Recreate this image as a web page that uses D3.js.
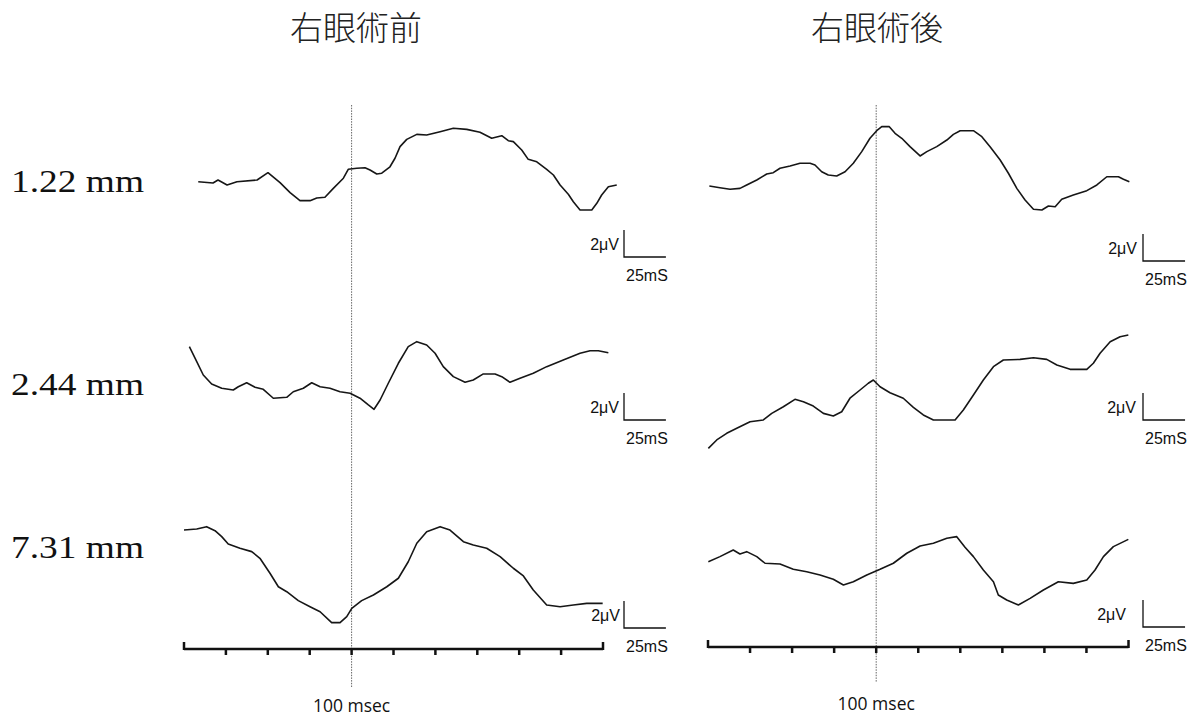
<!DOCTYPE html>
<html>
<head>
<meta charset="utf-8">
<script src="https://cdn.jsdelivr.net/npm/d3@7"></script>
<style>
  body { margin: 0; background: #fff; }
  svg { display: block; }
</style>
</head>
<body>
<svg id="chart" width="1200" height="718"></svg>
<script>
// ---- data -------------------------------------------------------------
const titles = ["右眼術前", "右眼術後"];
const rowLabels = ["1.22 mm", "2.44 mm", "7.31 mm"];
const rulerTicks = [0, 25, 50, 75, 100, 125, 150, 175, 200, 225, 250]; // ms
const markerTime = 100;          // ms
const markerLabel = "100 msec";
const barVolt = 2;               // μV
const barTime = 25;              // ms
const barVoltLabel = "2μV";
const barTimeLabel = "25mS";

// pattern VEP traces: [time (ms), amplitude (μV)]
const pre122 = [[8.5,-0.87],[17.3,-0.96],[20.3,-0.74],[25.7,-1.11],[31.6,-0.87],[43.6,-0.74],[50.1,-0.20],[57.3,-0.94],[63.3,-1.68],[69.2,-2.27],[75.2,-2.27],[79.2,-2.07],[84.1,-2.02],[89.1,-1.36],[95.1,-0.61],[98.0,0.05],[103.1,0.13],[108.0,0.17],[111.0,0.00],[115.0,-0.30],[118.0,-0.24],[122.9,0.24],[125.9,0.87],[128.9,1.73],[132.9,2.27],[138.9,2.64],[144.8,2.59],[152.8,2.84],[160.7,3.09],[168.7,3.01],[176.6,2.79],[183.6,2.35],[189.6,2.54],[193.5,2.17],[196.5,2.10],[201.5,1.48],[205.4,0.79],[210.5,0.61],[216.4,0.05],[220.4,-0.37],[224.4,-1.11],[229.3,-1.80],[232.3,-2.35],[236.3,-2.96],[243.3,-2.96],[246.3,-2.47],[249.2,-1.85],[253.2,-1.24],[258.2,-1.11]];
const pre244 = [[3.2,3.21],[7.6,2.10],[11.5,1.11],[16.5,0.44],[22.5,0.13],[29.4,0.00],[32.4,0.24],[37.4,0.54],[42.4,0.20],[47.3,0.05],[53.3,-0.61],[61.3,-0.54],[65.2,-0.13],[71.2,0.13],[76.2,0.54],[81.2,0.24],[87.1,0.13],[93.1,-0.13],[99.1,-0.24],[105.0,-0.61],[110.0,-1.11],[113.4,-1.43],[117.0,-0.74],[121.9,0.50],[127.9,1.98],[133.8,3.21],[138.9,3.58],[144.8,3.33],[149.8,2.72],[154.7,1.73],[160.7,0.99],[167.7,0.57],[172.6,0.74],[178.6,1.19],[185.6,1.19],[189.6,0.99],[194.5,0.57],[200.5,0.87],[208.4,1.24],[216.4,1.73],[226.3,2.22],[236.3,2.72],[242.3,2.91],[247.2,2.91],[253.2,2.76]];
const pre731 = [[0.0,2.96],[7.6,3.04],[13.5,3.21],[18.5,2.91],[22.5,2.47],[26.4,1.93],[33.4,1.61],[40.4,1.36],[45.3,0.87],[51.3,-0.24],[56.3,-1.24],[61.3,-1.61],[68.2,-2.27],[75.2,-2.72],[81.2,-3.09],[88.1,-3.90],[93.1,-3.90],[97.1,-3.46],[100.1,-2.84],[106.0,-2.27],[113.0,-1.85],[121.0,-1.24],[127.9,-0.61],[133.8,0.61],[138.9,1.98],[144.8,2.84],[152.8,3.21],[158.7,2.96],[166.7,2.10],[172.6,1.85],[180.6,1.61],[188.6,0.99],[196.5,0.13],[202.5,-0.44],[208.4,-1.48],[216.4,-2.59],[224.4,-2.72],[232.3,-2.59],[240.3,-2.47],[249.8,-2.47]];
const post122 = [[0.8,-1.19],[7.1,-1.31],[13.1,-1.43],[19.0,-1.36],[23.0,-1.11],[29.0,-0.74],[34.9,-0.30],[38.8,-0.20],[42.8,0.13],[48.8,0.30],[54.7,0.50],[60.7,0.50],[63.6,0.37],[67.6,-0.13],[71.5,-0.37],[76.5,-0.44],[81.5,-0.13],[86.4,0.50],[91.4,1.36],[96.3,2.35],[100.3,2.91],[103.3,3.21],[107.8,3.21],[111.2,2.72],[115.2,2.35],[120.1,1.73],[126.1,1.04],[130.1,1.36],[136.0,1.73],[142.0,2.22],[145.9,2.64],[149.9,2.91],[157.8,2.91],[162.8,2.47],[167.7,1.73],[173.7,0.74],[178.6,-0.24],[183.6,-1.36],[188.5,-2.22],[193.5,-2.91],[198.5,-2.96],[202.4,-2.67],[206.4,-2.72],[210.3,-2.17],[217.2,-1.85],[225.2,-1.53],[231.2,-1.11],[237.1,-0.50],[244.0,-0.50],[247.0,-0.69],[250.5,-0.87]];
const post244 = [[0.2,-4.32],[5.2,-3.70],[11.1,-3.21],[17.1,-2.84],[25.0,-2.35],[32.9,-2.22],[37.9,-1.73],[44.8,-1.24],[51.7,-0.69],[56.7,-0.87],[62.6,-1.19],[68.6,-1.73],[74.5,-1.93],[79.5,-1.61],[84.4,-0.61],[90.4,0.00],[95.3,0.50],[98.3,0.74],[102.3,0.24],[108.2,-0.20],[116.1,-0.61],[122.1,-1.28],[128.0,-1.85],[134.0,-2.22],[146.9,-2.22],[151.8,-1.48],[157.8,-0.37],[163.7,0.74],[169.7,1.73],[175.6,2.22],[185.5,2.27],[193.5,2.39],[201.4,2.27],[207.4,1.85],[215.3,1.53],[225.2,1.53],[229.1,1.98],[233.1,2.72],[239.1,3.58],[245.0,3.95],[249.9,4.07]];
const post731 = [[0.2,0.61],[7.1,0.99],[15.0,1.48],[19.0,1.19],[23.0,1.36],[29.0,0.99],[33.9,0.50],[42.8,0.44],[50.7,0.05],[58.7,-0.13],[66.6,-0.37],[74.5,-0.69],[80.5,-1.11],[86.4,-0.87],[94.4,-0.37],[102.3,0.05],[110.2,0.50],[118.2,1.24],[126.1,1.78],[134.0,1.98],[142.0,2.35],[147.9,2.47],[152.8,1.68],[157.8,0.99],[163.7,0.00],[169.7,-0.87],[172.6,-1.85],[177.6,-2.22],[184.5,-2.59],[191.5,-2.10],[199.4,-1.48],[208.3,-0.87],[217.2,-0.99],[225.2,-0.74],[230.1,0.00],[235.1,0.99],[241.0,1.73],[249.9,2.27]];

// ---- layout -----------------------------------------------------------
const svg = d3.select("#chart");
const rowBase = [170, 390, 570];     // zero-amplitude line of each row
const pxPerMicroVolt = 13.5;

const panels = [
  { title: titles[0], cx: 356, traces: [pre122, pre244, pre731],
    xRange: [184, 603], rulerY: 649, markerBottom: 688, labelY: 712,
    barX: 624, barBottom: [257, 420, 628], voltGap: [5, 5, 4] },
  { title: titles[1], cx: 877, traces: [post122, post244, post731],
    xRange: [708, 1128.5], rulerY: 647, markerBottom: 682, labelY: 710,
    barX: 1143, barBottom: [261, 420, 627], voltGap: [6, 7, 17] }
];

// row labels
svg.selectAll("text.row")
  .data(rowLabels)
  .join("text")
  .attr("class", "row")
  .attr("x", 11)
  .attr("y", (d, i) => [192, 395, 558][i])
  .attr("textLength", 133)
  .attr("lengthAdjust", "spacingAndGlyphs")
  .style("font-family", "'Liberation Serif', 'DejaVu Serif', serif")
  .style("font-size", "31px")
  .style("fill", "#111")
  .text(d => d);

panels.forEach(p => {
  const g = svg.append("g");
  const x = d3.scaleLinear().domain([0, 250]).range(p.xRange);

  // title
  g.append("text")
    .attr("x", p.cx).attr("y", 40)
    .attr("text-anchor", "middle")
    .style("font-family", "'Noto Sans CJK JP', 'Noto Sans CJK SC', sans-serif")
    .style("font-weight", 300)
    .style("font-size", "33px")
    .style("fill", "#222")
    .text(p.title);

  // stimulus marker line
  g.append("line")
    .attr("x1", x(markerTime)).attr("x2", x(markerTime))
    .attr("y1", 105).attr("y2", p.markerBottom)
    .attr("stroke", "#666").attr("stroke-width", 1)
    .attr("stroke-dasharray", "1.5,1.2");

  g.append("text")
    .attr("x", x(markerTime)).attr("y", p.labelY)
    .attr("text-anchor", "middle")
    .style("font-family", "'Open Sans', 'Noto Sans', sans-serif")
    .style("font-size", "17.5px")
    .style("fill", "#111")
    .text(markerLabel);

  // time ruler
  g.append("line")
    .attr("x1", x(rulerTicks[0])).attr("x2", x(rulerTicks[rulerTicks.length - 1]))
    .attr("y1", p.rulerY).attr("y2", p.rulerY)
    .attr("stroke", "#111").attr("stroke-width", 2.5);
  g.selectAll("line.tick")
    .data(rulerTicks)
    .join("line")
    .attr("class", "tick")
    .attr("x1", d => x(d)).attr("x2", d => x(d))
    .attr("y1", (d, i) => (i === 0 || i === rulerTicks.length - 1) ? p.rulerY - 7 : p.rulerY)
    .attr("y2", (d, i) => (i === 0 || i === rulerTicks.length - 1) ? p.rulerY + 1 : p.rulerY + 6)
    .attr("stroke", "#111").attr("stroke-width", 2.5);

  // traces and calibration bars
  p.traces.forEach((trace, r) => {
    const y = d3.scaleLinear().domain([0, 1])
      .range([rowBase[r], rowBase[r] - pxPerMicroVolt]);
    const line = d3.line().x(d => x(d[0])).y(d => y(d[1]));
    g.append("path")
      .datum(trace)
      .attr("d", line)
      .attr("fill", "none")
      .attr("stroke", "#161616")
      .attr("stroke-width", 1.6)
      .attr("stroke-linejoin", "round");

    const bx = p.barX, by = p.barBottom[r];
    const vLen = y(0) - y(barVolt);
    const hLen = x(barTime) - x(0);
    g.append("path")
      .attr("d", `M${bx},${by - vLen}V${by}H${bx + hLen}`)
      .attr("fill", "none").attr("stroke", "#111").attr("stroke-width", 1.3);
    g.append("text")
      .attr("x", bx - p.voltGap[r]).attr("y", by - vLen / 2 + 6)
      .attr("text-anchor", "end")
      .style("font-family", "'Liberation Sans', Arial, sans-serif")
      .style("font-size", "16px").style("fill", "#111")
      .text(barVoltLabel);
    g.append("text")
      .attr("x", bx + 2).attr("y", by + 24)
      .style("font-family", "'Liberation Sans', Arial, sans-serif")
      .style("font-size", "16px").style("fill", "#111")
      .text(barTimeLabel);
  });
});
</script>
</body>
</html>
